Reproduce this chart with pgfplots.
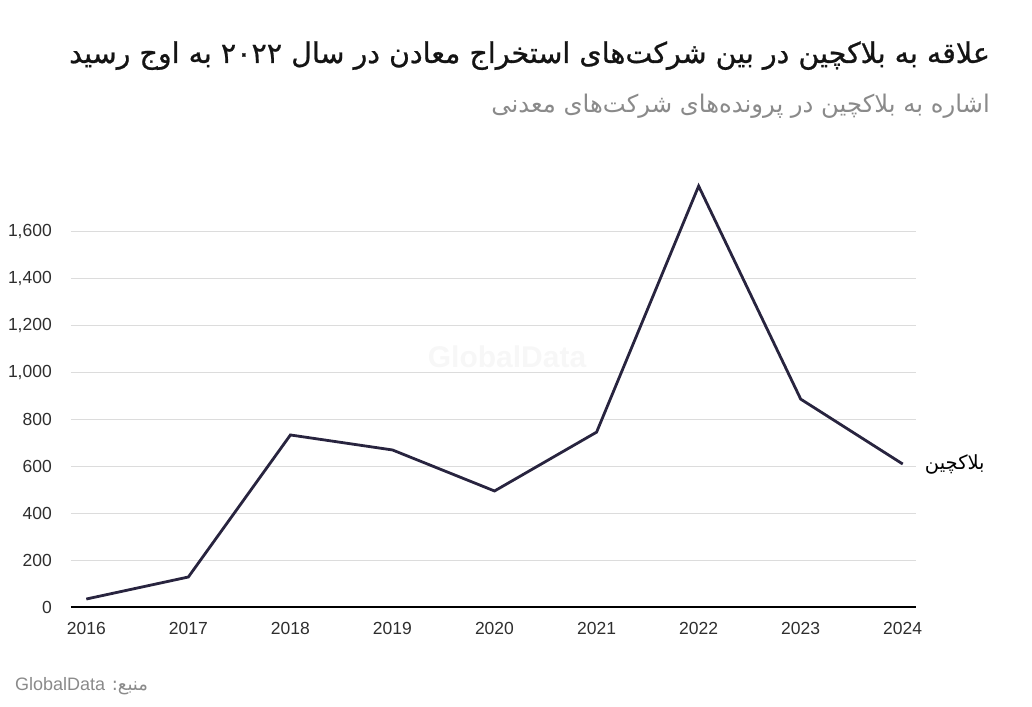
\documentclass[border=0pt]{standalone}
\usepackage{pgfplots}
\pgfplotsset{compat=1.18}
\usepackage{fontspec}
\setmainfont{Liberation Sans}
\newfontfamily\arabicfont[Script=Arabic]{DejaVu Sans}
\newfontfamily\arabictitle[Script=Arabic, FakeBold=0.8]{DejaVu Sans}
\TeXXeTstate=1

\definecolor{linecol}{HTML}{28243F}
\definecolor{titlecol}{HTML}{141414}
\definecolor{subcol}{HTML}{8A8A8A}
\definecolor{gridcol}{HTML}{DCDCDC}
\definecolor{tickcol}{HTML}{2E2E2E}
\definecolor{markcol}{HTML}{F7F7F7}

\begin{document}
\begin{tikzpicture}[x=1pt,y=1pt]
\useasboundingbox (0,0) rectangle (1032,706);

% title and subtitle
\node[anchor=base east, inner sep=0pt, text=titlecol,
      font=\arabictitle\fontsize{28.5}{32}\selectfont] at (990,643)
  {\beginR علاقه به بلاکچین در بین شرکت‌های استخراج معادن در سال \beginL ۲۰۲۲\endL{} به اوج رسید\endR};
\node[anchor=base east, inner sep=0pt, text=subcol,
      font=\arabicfont\fontsize{24.3}{28}\selectfont] at (990,593)
  {\beginR اشاره به بلاکچین در پرونده‌های شرکت‌های معدنی\endR};

% watermark
\node[text=markcol, font=\bfseries\fontsize{30}{36}\selectfont] at (507,349) {GlobalData};

\begin{axis}[
  at={(71pt,99pt)}, anchor=south west,
  scale only axis, width=845pt, height=421.875pt,
  xmin=2015.85, xmax=2024.13, ymin=0, ymax=1800,
  xtick={2016,...,2024}, ytick={0,200,...,1600},
  axis line style={draw=none},
  major tick length=0pt,
  ymajorgrids, grid style={gridcol, line width=1pt},
  tick label style={font=\fontsize{17.5}{20}\selectfont, text=tickcol},
  xticklabel style={inner sep=0pt, anchor=north, yshift=-15pt},
  yticklabel style={inner sep=0pt, anchor=east, xshift=-19pt},
  /pgf/number format/.cd, 1000 sep={,}, assume math mode=true,
  /tikz/.cd,
  x tick label style={/pgf/number format/1000 sep={}},
  clip=false,
]
\draw[black, line width=1.3pt] (rel axis cs:0,0) -- (rel axis cs:1,0);
\addplot[linecol, line width=2.8pt, line join=miter] coordinates {
  (2016,34) (2017,128) (2018,734) (2019,670) (2020,495)
  (2021,746) (2022,1796) (2023,887) (2024,610)
};
\node[anchor=west, inner sep=0pt, xshift=22pt, text=black,
      font=\arabicfont\fontsize{19.5}{24}\selectfont] at (axis cs:2024,610)
  {\beginR بلاکچین\endR};
\end{axis}

% source line
\node[anchor=base west, inner sep=0pt, text=subcol,
      font=\fontsize{18}{22}\selectfont] at (15,16)
  {\beginR{\arabicfont منبع:} \beginL GlobalData\endL{}\endR};
\end{tikzpicture}
\end{document}
